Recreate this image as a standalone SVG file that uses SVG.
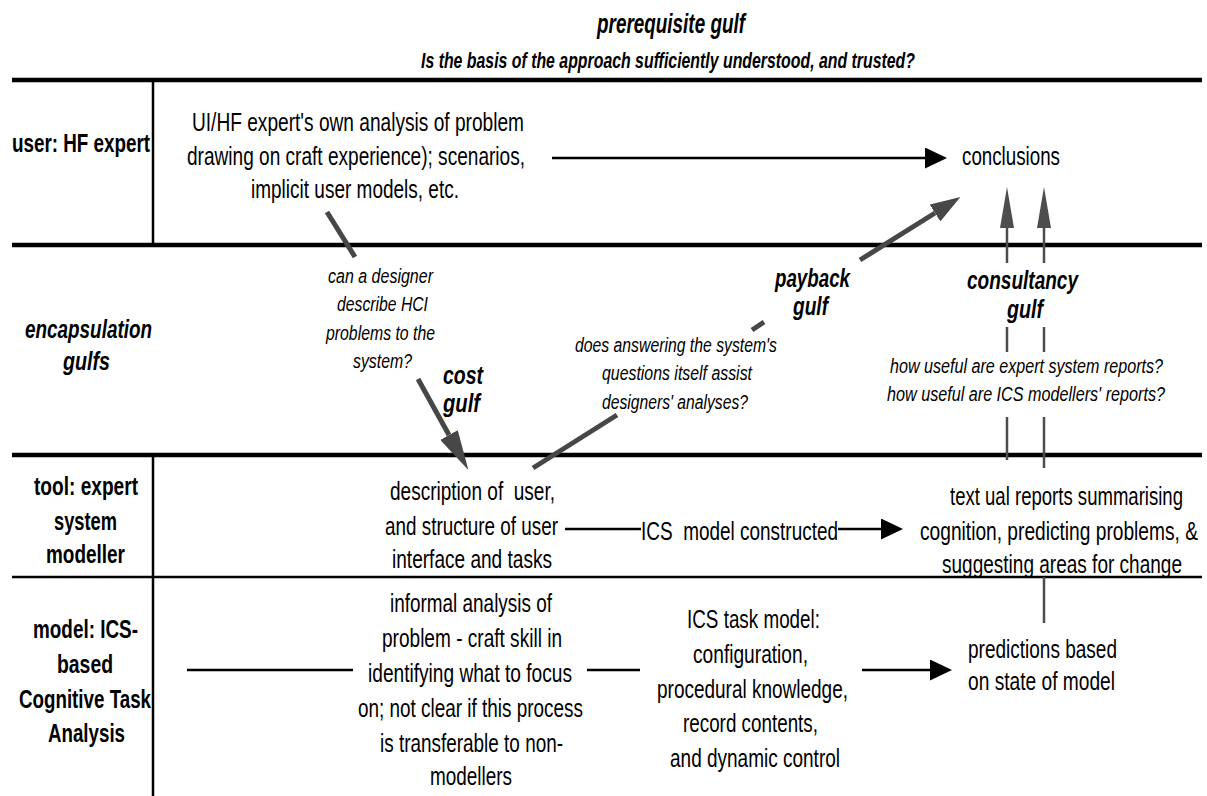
<svg xmlns="http://www.w3.org/2000/svg" width="1207" height="796" viewBox="0 0 1207 796">
  <style>
    text { font-family: "Liberation Sans Narrow", "Liberation Sans", Arial, sans-serif; fill: #000; }
    .pre { white-space: pre; }
    .hdr1 { font-size: 27px; font-weight: bold; font-style: italic; }
    .hdr2 { font-size: 22px; font-weight: bold; font-style: italic; }
    .lab { font-size: 25px; font-weight: bold; }
    .labi { font-size: 25px; font-weight: bold; font-style: italic; }
    .body { font-size: 26px; }
    .gulf { font-size: 25px; font-weight: bold; font-style: italic; }
    .q { font-size: 20px; font-style: italic; }
    .rule { stroke: #000; stroke-width: 4.5; fill: none; }
    .thin { stroke: #000; stroke-width: 2.5; fill: none; }
    .flow { stroke: #000; stroke-width: 2.5; fill: none; }
    .gulf-bar { stroke: #474747; stroke-width: 5; fill: none; }
    .gulf-thin { stroke: #4d4d4d; stroke-width: 2.5; fill: none; }
  </style>
  <defs>
    <marker id="head-black" viewBox="0 -10.5 22 21" markerWidth="22" markerHeight="21" refX="0" refY="0" orient="auto" markerUnits="userSpaceOnUse">
      <path d="M0,-10.5 L22,0 L0,10.5 Z" fill="#000"/>
    </marker>
    <marker id="head-cost" viewBox="0 -10 40 20" markerWidth="40" markerHeight="20" refX="0" refY="0" orient="auto" markerUnits="userSpaceOnUse">
      <path d="M0,-10 L40,0 L0,10 Z" fill="#474747"/>
    </marker>
    <marker id="head-payback" viewBox="0 -10 30 20" markerWidth="30" markerHeight="20" refX="0" refY="0" orient="auto" markerUnits="userSpaceOnUse">
      <path d="M0,-10 L30,0 L0,10 Z" fill="#474747"/>
    </marker>
    <marker id="head-consult" viewBox="0 -7 41 14" markerWidth="41" markerHeight="14" refX="0" refY="0" orient="auto" markerUnits="userSpaceOnUse">
      <path d="M0,-7 L41,0 L0,7 Z" fill="#4d4d4d"/>
    </marker>
  </defs>

  <!-- heading -->
  <g id="heading">
    <text class="hdr1" x="597" y="33" textLength="148" lengthAdjust="spacingAndGlyphs">prerequisite gulf</text>
    <text class="hdr2" x="421" y="68" textLength="494" lengthAdjust="spacingAndGlyphs">Is the basis of the approach sufficiently understood, and trusted?</text>
  </g>

  <!-- lane rules and the label column divider -->
  <g id="frame">
    <line class="rule" x1="12" y1="80" x2="1202" y2="80"/>
    <line class="rule" x1="12" y1="245" x2="1202" y2="245"/>
    <line class="rule" x1="12" y1="455" x2="1202" y2="455"/>
    <line class="thin" x1="12" y1="577" x2="1202" y2="577"/>
    <line class="thin" x1="153" y1="80" x2="153" y2="245"/>
    <line class="thin" x1="153" y1="455" x2="153" y2="796"/>
  </g>

  <!-- lane labels -->
  <g id="lane-user">
    <text class="lab" x="12" y="152" textLength="138" lengthAdjust="spacingAndGlyphs">user: HF expert</text>
  </g>
  <g id="lane-gulfs">
    <text class="labi" x="25" y="338" textLength="127" lengthAdjust="spacingAndGlyphs">encapsulation</text>
    <text class="labi" x="63" y="370" textLength="47" lengthAdjust="spacingAndGlyphs">gulfs</text>
  </g>
  <g id="lane-tool">
    <text class="lab" x="34" y="495" textLength="104" lengthAdjust="spacingAndGlyphs">tool: expert</text>
    <text class="lab" x="54" y="530" textLength="63" lengthAdjust="spacingAndGlyphs">system</text>
    <text class="lab" x="46" y="563" textLength="79" lengthAdjust="spacingAndGlyphs">modeller</text>
  </g>
  <g id="lane-model">
    <text class="lab" x="33" y="638" textLength="105" lengthAdjust="spacingAndGlyphs">model: ICS-</text>
    <text class="lab" x="57" y="673" textLength="56" lengthAdjust="spacingAndGlyphs">based</text>
    <text class="lab" x="19" y="708" textLength="132" lengthAdjust="spacingAndGlyphs">Cognitive Task</text>
    <text class="lab" x="48" y="742" textLength="77" lengthAdjust="spacingAndGlyphs">Analysis</text>
  </g>

  <!-- connectors -->
  <g id="connectors">
    <!-- expert's own route to conclusions -->
    <line class="flow" x1="552" y1="158" x2="925" y2="158" marker-end="url(#head-black)"/>
    <!-- tool lane -->
    <line class="flow" x1="565" y1="529" x2="641" y2="529"/>
    <line class="flow" x1="838" y1="529" x2="881" y2="529" marker-end="url(#head-black)"/>
    <!-- model lane -->
    <line class="flow" x1="187" y1="670" x2="353" y2="670"/>
    <line class="flow" x1="587" y1="670" x2="640" y2="670"/>
    <line class="flow" x1="862" y1="670" x2="930" y2="670" marker-end="url(#head-black)"/>
    <!-- cost gulf -->
    <line class="gulf-bar" x1="327" y1="212" x2="355" y2="257"/>
    <line class="gulf-bar" x1="418" y1="379" x2="449" y2="435" marker-end="url(#head-cost)"/>
    <!-- payback gulf -->
    <line class="gulf-bar" x1="533" y1="468" x2="617" y2="415"/>
    <line class="gulf-bar" x1="752" y1="330" x2="764" y2="322"/>
    <line class="gulf-bar" x1="860" y1="260" x2="935" y2="213" marker-end="url(#head-payback)"/>
    <!-- consultancy gulf -->
    <line class="gulf-thin" x1="1007" y1="460" x2="1007" y2="417"/>
    <line class="gulf-thin" x1="1007" y1="352" x2="1007" y2="327"/>
    <line class="gulf-thin" x1="1007" y1="263" x2="1007" y2="228" marker-end="url(#head-consult)"/>
    <line class="gulf-thin" x1="1044" y1="468" x2="1044" y2="417"/>
    <line class="gulf-thin" x1="1044" y1="352" x2="1044" y2="327"/>
    <line class="gulf-thin" x1="1044" y1="263" x2="1044" y2="228" marker-end="url(#head-consult)"/>
    <!-- predictions feed the reports -->
    <line class="gulf-thin" x1="1044" y1="577" x2="1044" y2="623"/>
  </g>

  <!-- nodes -->
  <g id="expert-analysis">
    <text class="body" x="192" y="131" textLength="332" lengthAdjust="spacingAndGlyphs">UI/HF expert's own analysis of problem</text>
    <text class="body" x="187" y="165" textLength="338" lengthAdjust="spacingAndGlyphs">drawing on craft experience); scenarios,</text>
    <text class="body" x="251" y="198" textLength="208" lengthAdjust="spacingAndGlyphs">implicit user models, etc.</text>
  </g>
  <g id="conclusions">
    <text class="body" x="962" y="165" textLength="98" lengthAdjust="spacingAndGlyphs">conclusions</text>
  </g>

  <g id="cost-question">
    <text class="q" x="328" y="283" textLength="105" lengthAdjust="spacingAndGlyphs">can a designer</text>
    <text class="q" x="337" y="311" textLength="91" lengthAdjust="spacingAndGlyphs">describe HCI</text>
    <text class="q" x="326" y="340" textLength="109" lengthAdjust="spacingAndGlyphs">problems to the</text>
    <text class="q" x="353" y="368" textLength="59" lengthAdjust="spacingAndGlyphs">system?</text>
  </g>
  <g id="cost-gulf">
    <text class="gulf" x="443" y="384" textLength="40" lengthAdjust="spacingAndGlyphs">cost</text>
    <text class="gulf" x="443" y="412" textLength="37" lengthAdjust="spacingAndGlyphs">gulf</text>
  </g>

  <g id="payback-question">
    <text class="q" x="575" y="352" textLength="202" lengthAdjust="spacingAndGlyphs">does answering the system's</text>
    <text class="q" x="602" y="380" textLength="150" lengthAdjust="spacingAndGlyphs">questions itself assist</text>
    <text class="q" x="602" y="409" textLength="146" lengthAdjust="spacingAndGlyphs">designers' analyses?</text>
  </g>
  <g id="payback-gulf">
    <text class="gulf" x="775" y="287" textLength="75" lengthAdjust="spacingAndGlyphs">payback</text>
    <text class="gulf" x="793" y="315" textLength="35" lengthAdjust="spacingAndGlyphs">gulf</text>
  </g>

  <g id="consultancy-gulf">
    <text class="gulf" x="967" y="289" textLength="111" lengthAdjust="spacingAndGlyphs">consultancy</text>
    <text class="gulf" x="1007" y="318" textLength="36" lengthAdjust="spacingAndGlyphs">gulf</text>
  </g>
  <g id="consultancy-question">
    <text class="q" x="890" y="373" textLength="273" lengthAdjust="spacingAndGlyphs">how useful are expert system reports?</text>
    <text class="q" x="887" y="401" textLength="278" lengthAdjust="spacingAndGlyphs">how useful are ICS modellers' reports?</text>
  </g>

  <g id="user-description">
    <text class="body pre" x="390" y="500" textLength="165" lengthAdjust="spacingAndGlyphs">description of  user,</text>
    <text class="body" x="385" y="535" textLength="173" lengthAdjust="spacingAndGlyphs">and structure of user</text>
    <text class="body" x="392" y="568" textLength="160" lengthAdjust="spacingAndGlyphs">interface and tasks</text>
  </g>
  <g id="model-constructed">
    <text class="body pre" x="641" y="540" textLength="197" lengthAdjust="spacingAndGlyphs">ICS  model constructed</text>
  </g>
  <g id="textual-reports">
    <text class="body" x="950" y="505" textLength="233" lengthAdjust="spacingAndGlyphs">text ual reports summarising</text>
    <text class="body" x="920" y="540" textLength="278" lengthAdjust="spacingAndGlyphs">cognition, predicting problems, &amp;</text>
    <text class="body" x="942" y="573" textLength="240" lengthAdjust="spacingAndGlyphs">suggesting areas for change</text>
  </g>

  <g id="informal-analysis">
    <text class="body" x="390" y="612" textLength="162" lengthAdjust="spacingAndGlyphs">informal analysis of</text>
    <text class="body" x="382" y="647" textLength="180" lengthAdjust="spacingAndGlyphs">problem - craft skill in</text>
    <text class="body" x="368" y="682" textLength="204" lengthAdjust="spacingAndGlyphs">identifying what to focus</text>
    <text class="body" x="358" y="717" textLength="225" lengthAdjust="spacingAndGlyphs">on; not clear if this process</text>
    <text class="body" x="380" y="752" textLength="183" lengthAdjust="spacingAndGlyphs">is transferable to non-</text>
    <text class="body" x="430" y="785" textLength="82" lengthAdjust="spacingAndGlyphs">modellers</text>
  </g>
  <g id="ics-task-model">
    <text class="body" x="687" y="628" textLength="133" lengthAdjust="spacingAndGlyphs">ICS task model:</text>
    <text class="body" x="693" y="663" textLength="115" lengthAdjust="spacingAndGlyphs">configuration,</text>
    <text class="body" x="657" y="698" textLength="191" lengthAdjust="spacingAndGlyphs">procedural knowledge,</text>
    <text class="body" x="683" y="732" textLength="135" lengthAdjust="spacingAndGlyphs">record contents,</text>
    <text class="body" x="670" y="767" textLength="170" lengthAdjust="spacingAndGlyphs">and dynamic control</text>
  </g>
  <g id="predictions">
    <text class="body" x="968" y="658" textLength="149" lengthAdjust="spacingAndGlyphs">predictions based</text>
    <text class="body" x="968" y="690" textLength="147" lengthAdjust="spacingAndGlyphs">on state of model</text>
  </g>
</svg>
